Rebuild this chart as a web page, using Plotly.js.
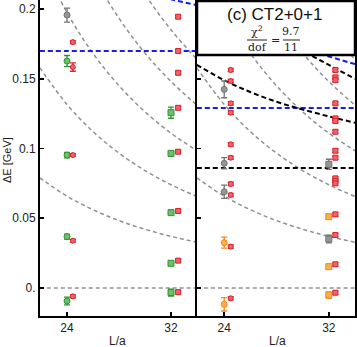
<!DOCTYPE html>
<html>
<head>
<meta charset="utf-8">
<script src="https://cdn.plot.ly/plotly-3.0.1.min.js"></script>
<style>
  html, body { margin: 0; padding: 0; background: #fff; }
  #chart { width: 357px; height: 347px; }
</style>
</head>
<body>
<div id="chart"></div>
<script>
// box sizes L/a where the levels were measured
const boxL = [24, 32];
const redShift = 0.5;

// free levels, on a grid of L/a
const gridL = [21.9, 24, 26, 28, 30, 32, 34];
const level1 = [0.0790, 0.0658, 0.0561, 0.0483, 0.0421, 0.0370, 0.0328];
const level2 = [0.1580, 0.1316, 0.1121, 0.0967, 0.0842, 0.0740, 0.0656];
const level3 = [0.2371, 0.1974, 0.1682, 0.1450, 0.1263, 0.1110, 0.0984];
const level4 = [0.3160, 0.2632, 0.2243, 0.1934, 0.1684, 0.1480, 0.1311];
const level5 = [0.3950, 0.3290, 0.2803, 0.2417, 0.2106, 0.1851, 0.1639];
const zeroLine = [0, 0, 0, 0, 0, 0, 0];

// thresholds, left panel
const blueLeft = [0.17, 0.17, 0.17, 0.17, 0.17, 0.17, 0.17];
const blueLeftUp = [0.249, 0.2358, 0.2261, 0.2183, 0.2121, 0.207, 0.2028];
// thresholds, right panel
const blackRight = [0.086, 0.086, 0.086, 0.086, 0.086, 0.086, 0.086];
const blackRight1 = [0.160, 0.1490, 0.1405, 0.1335, 0.1280, 0.1230, 0.1185];
const blackRight2 = [0.244, 0.2176, 0.1981, 0.1827, 0.1702, 0.1600, 0.1500];
const blueRight = [0.129, 0.129, 0.129, 0.129, 0.129, 0.129, 0.129];
const blueRightUp = [0.208, 0.1948, 0.1851, 0.1773, 0.1711, 0.1660, 0.1605];

// left panel levels (GeV)
const leftGray24 = [0.1957];
const leftGray24Err = [0.005];
const leftGreen24 = [0.1627, 0.0953, 0.0368, -0.0093];
const leftGreen24Err = [0.004, 0.002, 0.0018, 0.0028];
const leftGreen32 = [0.1257, 0.0965, 0.054, 0.0177, -0.0033];
const leftGreen32Err = [0.004, 0.0015, 0.0012, 0.0012, 0.0025];
const leftRed24 = [0.1763, 0.1584, 0.0953, 0.0339, -0.006];
const leftRed24Err = [0.001, 0.003, 0.001, 0.001, 0.001];
const leftRed32 = [0.1945, 0.1699, 0.1543, 0.1292, 0.0977, 0.0552, 0.0196, -0.003];
const leftRed32Err = [0.0012, 0.0012, 0.0012, 0.0012, 0.0012, 0.0012, 0.0012, 0.0012];

// right panel levels (GeV)
const rightGray24 = [0.1424, 0.0894, 0.069];
const rightGray24Err = [0.006, 0.004, 0.0048];
const rightGray32 = [0.0887, 0.0351];
const rightGray32Err = [0.0036, 0.0027];
const rightOrange24 = [0.0325, -0.0117];
const rightOrange24Err = [0.0039, 0.0048];
const rightOrange32 = [0.0511, 0.0153, -0.005];
const rightOrange32Err = [0.0018, 0.0015, 0.0022];
const rightRed24 = [0.1563, 0.1484, 0.1324, 0.1257, 0.103, 0.0934, 0.0746, 0.0667, 0.0296, -0.0074];
const rightRed32 = [0.1563, 0.151, 0.149, 0.1324, 0.1216, 0.1197, 0.112, 0.0984, 0.0934, 0.0786, 0.0767, 0.075, 0.0528, 0.038, 0.017, -0.0034];

const yTicks = [0, 0.05, 0.1, 0.15, 0.2];
const yTickText = ["0.", "0.05", "0.1", "0.15", "0.2"];

const colors = {
    green: ["rgb(110,190,110)", "rgb(45,150,45)"],
    red: ["rgb(240,100,105)", "rgb(215,35,45)"],
    gray: ["rgb(150,150,150)", "rgb(115,115,115)"],
    orange: ["rgb(252,175,80)", "rgb(245,135,20)"]
};

function curve(y, xa, ya, color, dash, width){
    return {x: gridL, y: y, xaxis: xa, yaxis: ya, mode: "lines", line: {shape: "spline", color: color, dash: dash, width: width},
            hoverinfo: "skip", showlegend: false};
}

function points(L, y, err, col, xa, ya){
    const sym = L < 28 ? "circle" : "square";
    return {x: y.map(() => L), y: y, xaxis: xa, yaxis: ya, mode: "markers",
            marker: {symbol: sym, size: col === "red" ? 5 : 6, color: colors[col][0], line: {color: colors[col][1], width: 1}},
            error_y: {type: "data", array: err || y.map(() => 0.0012), color: colors[col][1], thickness: 1.3, width: 3},
            showlegend: false, hoverinfo: "skip"};
}

const grayCol = "rgb(145,145,145)";
const grayDash = "4px,3px";
const data = [
    curve(zeroLine, "x", "y", grayCol, grayDash, 1.5),
    curve(level1, "x", "y", grayCol, grayDash, 1.5),
    curve(level2, "x", "y", grayCol, grayDash, 1.5),
    curve(level3, "x", "y", grayCol, grayDash, 1.5),
    curve(level4, "x", "y", grayCol, grayDash, 1.5),
    curve(level5, "x", "y", grayCol, grayDash, 1.5),
    curve(blueLeft, "x", "y", "rgb(20,30,240)", "5px,3px", 2),
    curve(blueLeftUp, "x", "y", "rgb(20,30,240)", "5px,3px", 2),

    curve(zeroLine, "x2", "y2", grayCol, grayDash, 1.5),
    curve(level1, "x2", "y2", grayCol, grayDash, 1.5),
    curve(level2, "x2", "y2", grayCol, grayDash, 1.5),
    curve(level3, "x2", "y2", grayCol, grayDash, 1.5),
    curve(level4, "x2", "y2", grayCol, grayDash, 1.5),
    curve(level5, "x2", "y2", grayCol, grayDash, 1.5),
    curve(blueRight, "x2", "y2", "rgb(20,30,240)", "5px,3px", 2),
    curve(blueRightUp, "x2", "y2", "rgb(20,30,240)", "5px,3px", 2),
    curve(blackRight, "x2", "y2", "black", "5px,3px", 2),
    curve(blackRight1, "x2", "y2", "black", "5px,3px", 2),
    curve(blackRight2, "x2", "y2", "black", "5px,3px", 2),

    points(boxL[0], leftGray24, leftGray24Err, "gray", "x", "y"),
    points(boxL[0], leftGreen24, leftGreen24Err, "green", "x", "y"),
    points(boxL[1], leftGreen32, leftGreen32Err, "green", "x", "y"),
    points(boxL[0] + 0.45, leftRed24, leftRed24Err, "red", "x", "y"),
    points(boxL[1] + 0.55, leftRed32, leftRed32Err, "red", "x", "y"),

    points(boxL[0], rightGray24, rightGray24Err, "gray", "x2", "y2"),
    points(boxL[1], rightGray32, rightGray32Err, "gray", "x2", "y2"),
    points(boxL[0], rightOrange24, rightOrange24Err, "orange", "x2", "y2"),
    points(boxL[1], rightOrange32, rightOrange32Err, "orange", "x2", "y2"),
    points(boxL[0] + redShift, rightRed24, null, "red", "x2", "y2"),
    points(boxL[1] + redShift, rightRed32, null, "red", "x2", "y2")
];

const W = 357, H = 347;
const px = v => v / W;
const py = v => (H - v) / H;

const xCommon = {range: [21.92, 34], tickvals: boxL, ticks: "inside", ticklen: 4, tickwidth: 1.5, tickcolor: "black",
                 showline: true, linewidth: 2, linecolor: "black", showgrid: false, zeroline: false,
                 tickfont: {family: "Liberation Sans, Arial, sans-serif", size: 12, color: "#222"}};
const yCommon = {range: [-0.0201, 0.2065], tickvals: yTicks, ticktext: yTickText, ticks: "inside", ticklen: 4,
                 tickwidth: 1.5, tickcolor: "black", showline: true, linewidth: 2, linecolor: "black",
                 showgrid: false, zeroline: false,
                 tickfont: {family: "Liberation Sans, Arial, sans-serif", size: 12, color: "#222"}};

const serif = {family: "DejaVu Serif, Liberation Serif, serif", size: 11, color: "#222"};

function label(text, x, y, font, extra){
    return Object.assign({text: text, xref: "paper", yref: "paper", x: px(x), y: py(y), showarrow: false,
                          xanchor: "center", yanchor: "middle", font: font}, extra || {});
}

const sans = size => ({family: "Liberation Sans, Arial, sans-serif", size: size, color: "#222"});

const layout = {
    width: W, height: H,
    margin: {l: 0, r: 0, t: 0, b: 0},
    paper_bgcolor: "white", plot_bgcolor: "white",
    showlegend: false,
    xaxis: Object.assign({}, xCommon, {domain: [px(40), px(197)], anchor: "y"}),
    yaxis: Object.assign({}, yCommon, {domain: [py(316), 1], anchor: "x"}),
    xaxis2: Object.assign({}, xCommon, {domain: [px(197), px(355)], anchor: "y2", mirror: true}),
    yaxis2: Object.assign({}, yCommon, {domain: [py(316), 1], anchor: "x2", mirror: true, showticklabels: false}),
    shapes: [
        {type: "rect", xref: "paper", yref: "paper", x0: px(197), x1: px(355), y0: py(55), y1: py(1),
         fillcolor: "white", line: {color: "black", width: 2.5}, layer: "above"},
        {type: "line", xref: "paper", yref: "paper", x0: px(247), x1: px(267), y0: py(40), y1: py(40),
         line: {color: "#222", width: 1}, layer: "above"},
        {type: "line", xref: "paper", yref: "paper", x0: px(283), x1: px(300), y0: py(40), y1: py(40),
         line: {color: "#222", width: 1}, layer: "above"}
    ],
    annotations: [
        label("ΔE [GeV]", 7, 160, sans(11), {textangle: -90}),
        label("L/a", 117, 341, sans(12)),
        label("L/a", 277, 341, sans(12)),
        label("(c) CT2+0+1", 274, 15, {family: "Liberation Sans, Arial, sans-serif", size: 17, color: "#111"}),
        label("χ<sup>2</sup>", 257, 32, serif),
        label("dof", 257, 48, serif),
        label("=", 275, 40, serif),
        label("9.7", 291, 32, serif),
        label("11", 291, 48, serif)
    ]
};

Plotly.newPlot("chart", data, layout, {staticPlot: true, displayModeBar: false});
</script>
</body>
</html>
